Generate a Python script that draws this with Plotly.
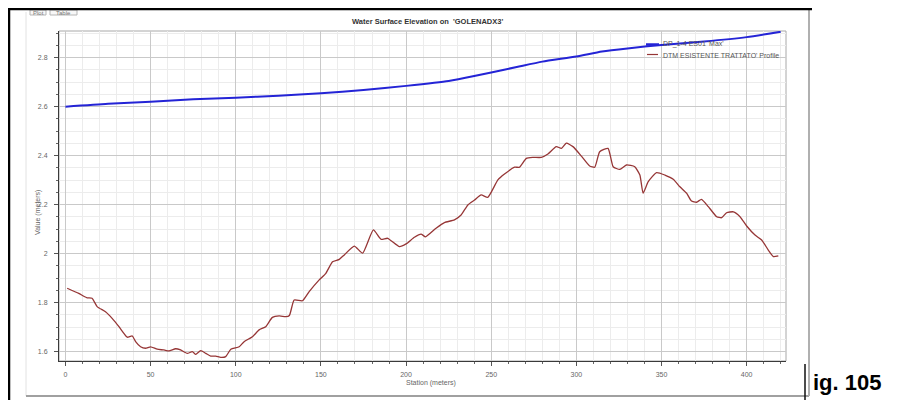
import plotly.graph_objects as go

# ---- data ----
wse_station = [0, 25, 50, 75, 100, 125, 150, 175, 200, 225, 240, 250, 265, 280,
               300, 315, 330, 350, 375, 400, 420]
wse_value = [2.600, 2.612, 2.620, 2.630, 2.637, 2.645, 2.655, 2.668, 2.685, 2.705,
             2.725, 2.740, 2.762, 2.784, 2.805, 2.825, 2.838, 2.852, 2.866, 2.884, 2.906]

prof_station = [1, 7.8, 12.7, 15.6, 18.6, 23.5, 27.4, 31.4, 34.3, 36.3, 39.2, 41.2, 44.1,
                47, 50, 53.9, 57.8, 60.8, 64.7, 67.6, 71.5, 74.5, 76.5, 79.4, 82.4, 85.3,
                88.2, 91.2, 94.1, 97.1, 102, 104.9, 109.8, 113.7, 117.6, 121.5, 125.5,
                129.4, 131.5, 134.3, 139.2, 143.1, 149, 152.9, 156.8, 160.8, 163.7, 169.6,
                174.5, 180.8, 185.3, 189.2, 196.1, 200, 204.9, 208.8, 211.4, 217.6, 222.5,
                228.4, 232.3, 236.3, 240.2, 244.1, 248, 253.9, 257.8, 263.7, 266.6, 270.6,
                274.5, 279.4, 283.3, 288.2, 291.2, 294.1, 298, 303, 307.8, 310.8, 313.7,
                318.6, 321.6, 325.5, 329.4, 334.3, 337.3, 339.2, 342.2, 347.1, 352, 356.9,
                360.8, 364.7, 367.6, 370.6, 373.5, 377.5, 382.4, 385.3, 388.2, 392.2,
                396.1, 400, 404.9, 408.8, 412.7, 415.7, 418.6]
prof_value = [1.859, 1.838, 1.820, 1.818, 1.784, 1.763, 1.736, 1.702, 1.675, 1.659, 1.664,
              1.641, 1.620, 1.614, 1.620, 1.610, 1.607, 1.603, 1.612, 1.607, 1.593, 1.600,
              1.589, 1.604, 1.593, 1.582, 1.582, 1.577, 1.580, 1.610, 1.620, 1.641, 1.661,
              1.689, 1.702, 1.740, 1.746, 1.743, 1.748, 1.811, 1.808, 1.845, 1.893, 1.920,
              1.967, 1.977, 1.995, 2.031, 2.002, 2.097, 2.059, 2.063, 2.029, 2.040, 2.067,
              2.080, 2.069, 2.104, 2.127, 2.138, 2.158, 2.199, 2.219, 2.240, 2.230, 2.301,
              2.325, 2.353, 2.353, 2.389, 2.393, 2.393, 2.407, 2.437, 2.430, 2.451, 2.437,
              2.398, 2.358, 2.353, 2.416, 2.430, 2.355, 2.344, 2.362, 2.355, 2.321, 2.247,
              2.294, 2.331, 2.321, 2.304, 2.273, 2.247, 2.215, 2.210, 2.222, 2.192, 2.151,
              2.147, 2.167, 2.171, 2.151, 2.113, 2.076, 2.056, 2.015, 1.988, 1.991]

title_text = "Water Surface Elevation on  'GOLENADX3'"
legend_names = ["DP_1-4 ES01 'Max'", "DTM ESISTENTE TRATTATO' Profile"]
x_title = "Station (meters)"
y_title = "Value (meters)"
x_ticks = [0, 50, 100, 150, 200, 250, 300, 350, 400]
y_ticks = [1.6, 1.8, 2.0, 2.2, 2.4, 2.6, 2.8]
y_ticklabels = ["1.6", "1.8", "2", "2.2", "2.4", "2.6", "2.8"]

# ---- layout geometry (page pixels; the page body adds an 8px offset) ----
OFF = 8
W, H = 899 - OFF, 400 - OFF
PL, PR, PT, PB = 59, 786, 31, 361          # plot area in page pixels
L, R, T, B = PL - OFF, PR - OFF, PT - OFF, PB - OFF
pw, ph = R - L, B - T


def xp(px):
    return (px - OFF - L) / pw


def yp(py):
    return (B - (py - OFF)) / ph


BLUE = "#2424d6"
RED = "#963636"
FONT = "Liberation Sans"

fig = go.Figure()
fig.add_trace(go.Scatter(x=wse_station, y=wse_value, mode="lines",
                         line=dict(color=BLUE, width=2, shape="spline", smoothing=0.6),
                         name=legend_names[0], hoverinfo="skip"))
fig.add_trace(go.Scatter(x=prof_station, y=prof_value, mode="lines",
                         line=dict(color=RED, width=1.3, shape="spline", smoothing=0.5),
                         name=legend_names[1], hoverinfo="skip"))

axis_common = dict(showline=True, linecolor="#3a3a3a", linewidth=1,
                   ticks="outside", ticklen=4, tickcolor="#555",
                   tickfont=dict(family=FONT, size=7, color="#666"),
                   showgrid=True, gridcolor="#c9c9c9", gridwidth=1, zeroline=False)

fig.update_xaxes(range=[-3.8, 423.1], tickvals=x_ticks, ticklabelstandoff=3,
                 minor=dict(dtick=10, tick0=0, ticks="outside", ticklen=2, tickcolor="#666",
                            showgrid=True, gridcolor="#ececec"),
                 **axis_common)
fig.update_yaxes(range=[1.562, 2.909], tickvals=y_ticks, ticktext=y_ticklabels,
                 ticklabelstandoff=5,
                 minor=dict(dtick=0.05, tick0=1.6, ticks="outside", ticklen=2, tickcolor="#666",
                            showgrid=True, gridcolor="#ececec"),
                 **axis_common)

shapes = []
# plot frame (light)
shapes.append(dict(type="rect", xref="paper", yref="paper", x0=0, x1=1, y0=0, y1=1,
                   line=dict(color="#a8a8a8", width=1), layer="below"))
# window frame
shapes.append(dict(type="line", xref="paper", yref="paper", x0=xp(26), x1=xp(26), y0=yp(12), y1=yp(396),
                   line=dict(color="#e2e2e2", width=1)))
shapes.append(dict(type="line", xref="paper", yref="paper", x0=xp(26), x1=xp(809), y0=yp(396), y1=yp(396),
                   line=dict(color="#a0a0a0", width=2)))
shapes.append(dict(type="line", xref="paper", yref="paper", x0=xp(809), x1=xp(809), y0=yp(10), y1=yp(396),
                   line=dict(color="#b0b0b0", width=2)))
# document borders (as close to the page edge as the page allows)
shapes.append(dict(type="line", xref="paper", yref="paper", x0=xp(8), x1=xp(812), y0=yp(9), y1=yp(9),
                   line=dict(color="#000", width=2.5)))
shapes.append(dict(type="line", xref="paper", yref="paper", x0=xp(9), x1=xp(9), y0=yp(8), y1=yp(400),
                   line=dict(color="#000", width=2.5)))
shapes.append(dict(type="line", xref="paper", yref="paper", x0=xp(805), x1=xp(805), y0=yp(364), y1=yp(400),
                   line=dict(color="#111", width=1.5)))
# tabs
for x0, x1 in [(30, 46), (50, 77)]:
    shapes.append(dict(type="rect", xref="paper", yref="paper", x0=xp(x0), x1=xp(x1), y0=yp(10), y1=yp(15),
                       line=dict(color="#b5b5b5", width=1), fillcolor="#f7f7f7", layer="below"))
# legend samples
shapes.append(dict(type="line", xref="paper", yref="paper", x0=xp(646), x1=xp(659), y0=yp(44.5), y1=yp(44.5),
                   line=dict(color=BLUE, width=2.5)))
shapes.append(dict(type="line", xref="paper", yref="paper", x0=xp(647), x1=xp(658), y0=yp(54.5), y1=yp(54.5),
                   line=dict(color=RED, width=1.2)))

ann = []
ann.append(dict(text="<b>" + title_text + "</b>", x=xp(427), y=yp(22), xref="paper", yref="paper",
                showarrow=False, font=dict(family=FONT, size=7.5, color="#333"),
                xanchor="center", yanchor="middle"))
ann.append(dict(text=legend_names[0], x=xp(661), y=yp(44.5), xref="paper", yref="paper",
                showarrow=False, font=dict(family=FONT, size=7, color="#555"),
                xanchor="left", yanchor="middle"))
ann.append(dict(text=legend_names[1], x=xp(661), y=yp(55), xref="paper", yref="paper",
                showarrow=False, font=dict(family=FONT, size=7, color="#555"),
                xanchor="left", yanchor="middle"))
ann.append(dict(text=x_title, x=xp(431), y=yp(383), xref="paper", yref="paper",
                showarrow=False, font=dict(family=FONT, size=7, color="#666"),
                xanchor="center", yanchor="middle"))
ann.append(dict(text=y_title, x=xp(38), y=yp(213), xref="paper", yref="paper", textangle=-90,
                showarrow=False, font=dict(family=FONT, size=7, color="#666"),
                xanchor="center", yanchor="middle"))
ann.append(dict(text="Plot", x=xp(38), y=yp(13), xref="paper", yref="paper",
                showarrow=False, font=dict(family=FONT, size=6, color="#777"),
                xanchor="center", yanchor="middle"))
ann.append(dict(text="Table", x=xp(63.5), y=yp(13), xref="paper", yref="paper",
                showarrow=False, font=dict(family=FONT, size=6, color="#777"),
                xanchor="center", yanchor="middle"))
ann.append(dict(text="<b>ig. 105</b>", x=xp(811), y=yp(382), xref="paper", yref="paper",
                showarrow=False, font=dict(family=FONT, size=22, color="#000"),
                xanchor="left", yanchor="middle"))

fig.update_layout(width=W, height=H, margin=dict(l=L, r=W - R, t=T, b=H - B, pad=0),
                  paper_bgcolor="white", plot_bgcolor="white", showlegend=False,
                  shapes=shapes, annotations=ann)

fig.write_html("out.html")
